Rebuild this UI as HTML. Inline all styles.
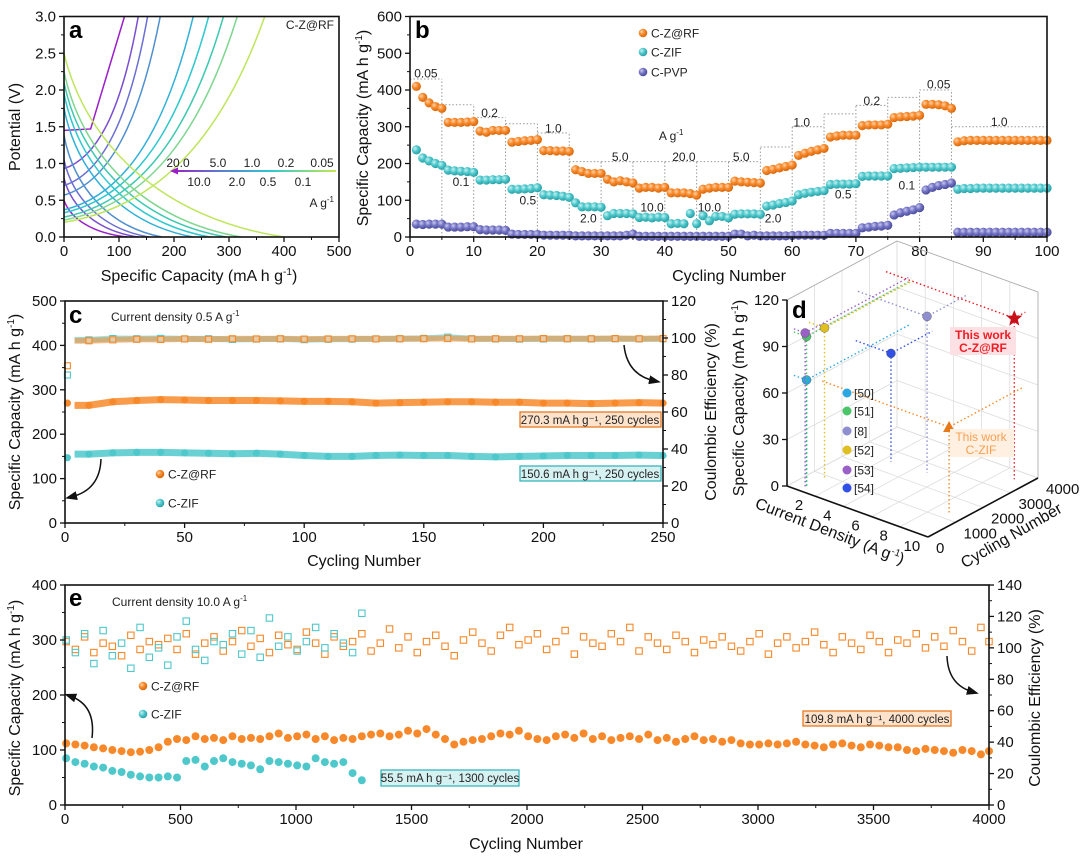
<!DOCTYPE html>
<html><head><meta charset="utf-8"><style>
html,body{margin:0;padding:0;background:#fff}
svg{display:block;font-family:"Liberation Sans",Arial,sans-serif}
</style></head><body>
<svg id="fig" xmlns="http://www.w3.org/2000/svg" width="1080" height="861" viewBox="0 0 1080 861">
<defs>
<radialGradient id="gOr" cx="35%" cy="35%" r="65%"><stop offset="0" stop-color="#ffd2a8"/><stop offset="0.5" stop-color="#f7892a"/><stop offset="1" stop-color="#d96a10"/></radialGradient>
<radialGradient id="gCy" cx="35%" cy="35%" r="65%"><stop offset="0" stop-color="#c8f2f3"/><stop offset="0.5" stop-color="#4fc8cc"/><stop offset="1" stop-color="#2aa2a8"/></radialGradient>
<radialGradient id="gPv" cx="35%" cy="35%" r="65%"><stop offset="0" stop-color="#c8c8f0"/><stop offset="0.5" stop-color="#7474c4"/><stop offset="1" stop-color="#4d4d9e"/></radialGradient>
<linearGradient id="gLeg" gradientUnits="userSpaceOnUse" x1="172" x2="336" y1="0" y2="0"><stop offset="0" stop-color="#9b1fc8"/><stop offset="0.3" stop-color="#5a7ed0"/><stop offset="0.6" stop-color="#2ec8cf"/><stop offset="1" stop-color="#c4e84e"/></linearGradient>
<marker id="arr" markerWidth="8" markerHeight="8" refX="4" refY="4" orient="auto"><path d="M0,1 L8,4 L0,7 Z" fill="#111"/></marker>
</defs>

<g font-size="16" fill="#111">
<text x="199" y="281" text-anchor="middle">Specific Capacity (mA h g<tspan dy="-6" font-size="10">-1</tspan><tspan dy="6">)</tspan></text>
<text transform="translate(20,127) rotate(-90)" text-anchor="middle">Potential (V)</text>
<text x="729" y="281" text-anchor="middle">Cycling Number</text>
<text transform="translate(368,128) rotate(-90)" text-anchor="middle">Specific Capacity (mA h g<tspan dy="-6" font-size="10">-1</tspan><tspan dy="6">)</tspan></text>
<text x="364" y="566" text-anchor="middle">Cycling Number</text>
<text transform="translate(20,412) rotate(-90)" text-anchor="middle">Specific Capacity (mA h g<tspan dy="-6" font-size="10">-1</tspan><tspan dy="6">)</tspan></text>
<text transform="translate(716,412) rotate(-90)" text-anchor="middle">Coulombic Efficiency (%)</text>
<text transform="translate(744,398) rotate(-90)" text-anchor="middle">Specific Capacity (mA h g<tspan dy="-6" font-size="10">-1</tspan><tspan dy="6">)</tspan></text>
<text transform="translate(828,536) rotate(21)" text-anchor="middle">Current Density (A g<tspan dy="-6" font-size="10">-1</tspan><tspan dy="6">)</tspan></text>
<text transform="translate(1014,540) rotate(-30)" text-anchor="middle">Cycling Number</text>
<text x="526" y="849" text-anchor="middle">Cycling Number</text>
<text transform="translate(20,698) rotate(-90)" text-anchor="middle">Specific Capacity (mA h g<tspan dy="-6" font-size="10">-1</tspan><tspan dy="6">)</tspan></text>
<text transform="translate(1040,698) rotate(-90)" text-anchor="middle">Coulombic Efficiency (%)</text>
</g>
<g font-size="24" font-weight="bold" fill="#000">
<text x="69" y="38">a</text>
<text x="415" y="38">b</text>
<text x="69" y="323">c</text>
<text x="792" y="318">d</text>
<text x="69" y="606">e</text>
</g>
<g font-size="12" fill="#222">
<text x="334" y="29" text-anchor="end">C-Z@RF</text>
<text x="334" y="207" text-anchor="end">A g<tspan dy="-5" font-size="8">-1</tspan></text>
<text x="111" y="321">Current density 0.5 A g<tspan dy="-5" font-size="8">-1</tspan></text>
<text x="112" y="606">Current density 10.0 A g<tspan dy="-5" font-size="8">-1</tspan></text>
</g>
<g id="layer"></g>
</svg>

<script>
// panel a
const aRates = ['20.0','10.0','5.0','2.0','1.0','0.5','0.2','0.1','0.05'];
const aDisStartV = [0.5,0.8,1.05,1.38,1.75,1.95,2.1,2.25,2.5];
const aDisEndCap = [115,135,155,178,235,265,295,322,400];
const aChgStartV = [1.45,0.93,0.7,0.57,0.37,0.33,0.27,0.23,0.2];
const aChgEndCap = [110,135,152,175,235,263,290,315,365];
// panel b
const bZRF = [410,380,365,355,350, 312,312,312,313,314, 288,285,290,290,290, 258,260,262,263,265, 235,235,234,234,233, 183,178,173,173,173, 157,150,153,150,147, 133,135,135,133,135, 120,120,120,118,114, 130,133,135,135,135, 152,150,149,148,147, 181,184,188,192,196, 222,228,233,237,241, 272,275,277,277,277, 303,305,305,305,307, 325,327,328,329,331, 361,361,360,357,350, 259,262,263,263,263, 263,263,263,263,263, 263,263,263,263,263];
const bZIF = [237,215,207,200,195, 182,180,179,178,176, 155,155,156,156,157, 130,130,131,132,134, 115,114,113,111,108, 93,82,82,82,81, 58,64,64,64,63, 53,54,52,54,53, 36,37,36,64,36, 58,44,56,56,52, 62,63,63,63,62, 84,87,91,94,98, 115,119,122,124,126, 143,144,144,144,145, 165,166,166,166,166, 186,187,188,189,190, 190,190,190,190,190, 130,132,132,133,133, 133,133,133,133,133, 133,133,133,133,133];
const bPVP = [35,34,35,35,35, 27,27,27,28,28, 20,19,19,19,18, 8,7,7,7,7, 5,5,5,5,5, 3,3,3,3,3, 3,3,3,5,8, 2,2,2,2,2, 2,2,2,2,2, 2,2,2,2,2, 8,8,3,5,3, 3,3,3,3,4, 5,5,5,5,5, 10,10,10,10,10, 25,27,29,30,32, 60,66,70,74,80, 128,135,140,143,147, 13,13,13,13,13, 13,13,13,13,13, 13,13,13,13,13];
const bStepStart = [0,5,10,15,20,25,30,35,40,45,50,55,60,65,70,75,80,85];
const bStepEnd   = [5,10,15,20,25,30,35,40,45,50,55,60,65,70,75,80,85,100];
const bStepTop   = [430,360,325,308,283,205,205,205,205,205,205,245,300,335,358,380,400,300];
const bRateText  = ['0.05','0.1','0.2','0.5','1.0','2.0','5.0','10.0','20.0','10.0','5.0','2.0','1.0','0.5','0.2','0.1','0.05','1.0'];
const bRateX     = [2.5,8,12.5,18.5,22.5,28,33,38,43,47,52,57,61.5,68,72.5,78,83,92.5];
const bRateY     = [445,150,338,100,295,50,218,80,218,80,218,50,312,115,370,140,415,313];
// panel c
const cCycles = [1,10,20,30,40,50,60,70,80,90,100,110,120,130,140,150,160,170,180,190,200,210,220,230,240,250];
const cCapZRF = [270,265,273,276,278,277,276,276,276,275,274,274,273,270,271,272,273,273,272,272,270,270,269,270,271,270];
const cCapZIF = [147,155,158,159,159,158,157,156,157,155,152,150,150,152,153,152,152,150,149,150,151,152,152,152,153,152];
const cCEZRF = [85,98.5,99,99.3,99.2,99.5,99.3,99.6,99.5,99.6,99.4,99.5,99.6,99.5,99.6,99.6,99.7,99.5,99.6,99.6,99.7,99.6,99.6,99.7,99.6,99.7];
const cCEZIF = [80,99,99.7,99.6,99.8,99.5,99.6,99.2,99.4,99.5,99.1,99.3,99.4,99.5,99.6,99.8,100.5,99.6,99.5,99.4,99.5,99.6,99.5,99.6,99.5,99.6];
// panel e
const eCapZRF = [112,110,108,105,103,100,98,96,97,100,105, 115,120,118,125,120,122,118,125,120,122, 120,125,130,122,125,128,120,125,118,122, 120,125,128,130,125,128,135,130,138,128, 120,110,115,118,120,125,130,128,135,125, 120,118,125,128,122,130,120,125,118,122, 125,120,128,118,122,115,120,125,118,120, 115,118,112,110,110,112,110,112,115,110, 108,105,110,112,108,105,110,108,105,105, 100,98,102,100,98,95,100,98,92,98];
const eCEZRF = [104,99,107,97,103,101,95,108,99,104,102, 106,99,109,96,103,107,98,104,111,101, 106,97,108,102,99,110,103,96,107,101, 104,109,98,103,112,100,107,97,104,108, 101,95,105,110,103,98,108,113,102,105, 109,99,104,111,96,107,103,101,109,104, 113,98,107,103,99,108,104,97,105,102, 107,101,98,104,109,96,103,107,100,104, 110,102,97,107,103,99,108,104,97,105, 103,109,100,107,101,111,104,98,113,104];
const eCapZIF = [85,78,75,70,68,62,60,55,52,50,50,52,50,80,82,70,80,85,78,75,72,65,80,78,75,72,70,85,78,75,78,58,45];
const eCEZIF = [105,97,109,90,111,95,103,87,113,94,100,89,107,117,99,92,104,102,109,96,111,94,119,101,107,98,104,113,100,109,103,97,122];
const eStep = 40;
// panel d
const dRefs = ['[50]','[51]','[8]','[52]','[53]','[54]'];
const dCD   = [1.9,1.9,5.9,2.1,1.8,3.5];
const dCyc  = [250,250,2580,800,250,2500];
const dCap  = [69,97,101,98,99,70];
const dCol  = ['#2aa6e0','#4cc46a','#8f8fd0','#e0c020','#9b5fc8','#3050e8'];
const dWorkCD = [10.1,10];
const dWorkCyc = [3600,1280];
const dWorkCap = [104,55.5];

const NS='http://www.w3.org/2000/svg';
const layer=document.getElementById('layer');
function mk(tag,attrs,parent){const e=document.createElementNS(NS,tag);for(const k in attrs)e.setAttribute(k,attrs[k]);(parent||layer).appendChild(e);return e;}
function lin(d0,d1,r0,r1){return v=>r0+(v-d0)*(r1-r0)/(d1-d0);}
const aColors=['#9b1fc8','#7a4ed0','#6b6fd1','#4f8fcf','#2fb0d8','#2ec8cf','#3cc9b0','#7ed68f','#bde65a'];

function frame(x0,x1,y0,y1,name){
  const r=mk('rect',{x:x0,y:y0,width:x1-x0,height:y1-y0,fill:'none',stroke:'#111','stroke-width':1.6});
  
  
}
function xTicks(sx,vals,fmt,y1,name){
  const g=mk('g',{});
  
  
  for(let i=0;i<vals.length;i++){
    const x=sx(vals[i]);
    mk('line',{x1:x,x2:x,y1:y1,y2:y1+5,stroke:'#111','stroke-width':1.3},g);
    if(i<vals.length-1){const xm=sx((vals[i]+vals[i+1])/2);mk('line',{x1:xm,x2:xm,y1:y1,y2:y1+3,stroke:'#111','stroke-width':1},g);}
    const t=mk('text',{x:x,y:y1+19,'text-anchor':'middle','font-size':15,fill:'#111'},g);
    t.textContent=fmt(vals[i]);
  }
}
function yTicks(sy,vals,fmt,x,side,name){
  const g=mk('g',{});
  
  
  const d=side==='left'?-1:1;
  for(let i=0;i<vals.length;i++){
    const y=sy(vals[i]);
    mk('line',{x1:x,x2:x+5*d,y1:y,y2:y,stroke:'#111','stroke-width':1.3},g);
    if(i<vals.length-1){const ym=sy((vals[i]+vals[i+1])/2);mk('line',{x1:x,x2:x+3*d,y1:ym,y2:ym,stroke:'#111','stroke-width':1},g);}
    const t=mk('text',{x:x+8*d,y:y+5,'text-anchor':side==='left'?'end':'start','font-size':15,fill:'#111'},g);
    t.textContent=fmt(vals[i]);
  }
}
const range=(a,b,s)=>{const r=[];for(let v=a;v<=b+1e-9;v+=s)r.push(+v.toFixed(4));return r;};

// PANEL A
const ax=lin(0,500,64,339), ay=lin(0,3,237,16.5);
{
  const g=mk('g',{});
  
  
  for(let i=0;i<aRates.length;i++){
    const c=aDisEndCap[i],v=aDisStartV[i];
    const p=mk('path',{d:`M${ax(0)},${ay(v)} C${ax(0.1*c)},${ay(0.5*v)} ${ax(0.45*c)},${ay(0.1*v)} ${ax(c)},${ay(0)}`,fill:'none',stroke:aColors[i],'stroke-width':1.5},g);
    
    
    const c2=aChgEndCap[i],s=aChgStartV[i];
    let d;
    if(i===0){d=`M${ax(0)},${ay(s)} L${ax(0.44*c2)},${ay(s+0.02)} L${ax(c2)},${ay(3)}`;}
    else d=`M${ax(0)},${ay(s)} C${ax(0.5*c2)},${ay(s+0.08*(3-s))} ${ax(0.8*c2)},${ay(s+0.45*(3-s))} ${ax(c2)},${ay(3)}`;
    const q=mk('path',{d:d,fill:'none',stroke:aColors[i],'stroke-width':1.5},g);
    
    
  }
  frame(64,339,16.5,237,'a-plot-frame');
  xTicks(ax,range(0,500,100),v=>String(v),237,'a-x-axis');
  yTicks(ay,range(0,3,0.5),v=>v.toFixed(1),64,'left','a-y-axis');
  const lg=mk('g',{});
  
  
  mk('line',{x1:336,y1:171,x2:176,y2:171,stroke:'url(#gLeg)','stroke-width':2},lg);
  mk('path',{d:'M170,171 L178,167.5 L178,174.5 Z',fill:'#9b1fc8'},lg);
  const top=[['20.0',178],['5.0',218],['1.0',252],['0.2',286],['0.05',322]];
  const bot=[['10.0',199],['2.0',237],['0.5',268],['0.1',303]];
  top.forEach(t=>{const e=mk('text',{x:t[1],y:167,'text-anchor':'middle','font-size':12,fill:'#222'},lg);e.textContent=t[0];});
  bot.forEach(t=>{const e=mk('text',{x:t[1],y:186,'text-anchor':'middle','font-size':12,fill:'#222'},lg);e.textContent=t[0];});
}

// PANEL B
const bx=lin(0,100,410,1047), by=lin(0,600,237,16.5);
{
  const g=mk('g',{});
  
  
  let d='';
  for(let i=0;i<bStepStart.length;i++){
    d+=`M${bx(bStepStart[i])},${by(bStepTop[i])} H${bx(bStepEnd[i])} `;
    if(i>0){const h=Math.max(bStepTop[i],bStepTop[i-1]);d+=`M${bx(bStepStart[i])},${by(0)} V${by(h)} `;}
  }
  mk('path',{d:d,fill:'none',stroke:'#999','stroke-width':1,'stroke-dasharray':'1.5,2'},g);
  for(let i=0;i<bRateText.length;i++){
    const t=mk('text',{x:bx(bRateX[i]),y:by(bRateY[i])+4,'text-anchor':'middle','font-size':12,fill:'#222'},g);
    t.textContent=bRateText[i];
  }
  const u=mk('text',{x:bx(41),y:by(275)+4,'text-anchor':'middle','font-size':12,fill:'#222'},g);
  u.textContent='A g';
  const us=mk('tspan',{dy:-5,'font-size':8},u);
  us.textContent='-1';
  const series=[[bPVP,'url(#gPv)','c-pvp'],[bZIF,'url(#gCy)','c-zif'],[bZRF,'url(#gOr)','c-z-rf']];
  series.forEach(s=>{
    const sg=mk('g',{});
    
    
    s[0].forEach((v,i)=>{
      const c=mk('circle',{cx:bx(i+1),cy:by(v),r:4.6,fill:s[1]},sg);
      
      
    });
  });
  frame(410,1047,16.5,237,'b-plot-frame');
  xTicks(bx,range(0,100,10),v=>String(v),237,'b-x-axis');
  yTicks(by,range(0,600,100),v=>String(v),410,'left','b-y-axis');
  const leg=[['url(#gOr)','C-Z@RF',33],['url(#gCy)','C-ZIF',52],['url(#gPv)','C-PVP',72]];
  leg.forEach(l=>{
    const lg=mk('g',{});
    
    
    mk('circle',{cx:643,cy:l[2],r:4.3,fill:l[0]},lg);
    const t=mk('text',{x:651,y:l[2]+4.5,'font-size':12,fill:'#222'},lg);
    t.textContent=l[1];
  });
}

// PANEL C
const cx=lin(0,250,65,663), cy=lin(0,500,523,301), cyR=lin(0,120,523,301);
{
  const series=[[cCEZIF,'#4fc8cc',true],[cCEZRF,'#f7892a',true],[cCapZIF,'#4fc8cc',false],[cCapZRF,'#f7892a',false]];
  series.forEach((s,k)=>{
    const g=mk('g',{});
    
    
    const yy=s[2]?cyR:cy;
    let pts=[];
    for(let i=1;i<cCycles.length;i++)pts.push(cx(cCycles[i])+','+yy(s[0][i]));
    mk('polyline',{points:cx(4)+','+yy(s[0][1])+' '+pts.join(' '),fill:'none',stroke:s[1],'stroke-width':s[2]?6:7,'stroke-opacity':s[2]?0.55:0.85},g);
    for(let i=0;i<cCycles.length;i++){
      const x=cx(cCycles[i]),y=yy(s[0][i]);
      let m;
      if(s[2]) m=mk('rect',{x:x-3,y:y-3,width:6,height:6,fill:'#fff','fill-opacity':0.3,stroke:s[1],'stroke-width':1.1},g);
      else m=mk('circle',{cx:x,cy:y,r:3.6,fill:s[1]},g);
      
      
    }
  });
  frame(65,663,301,523,'c-plot-frame');
  xTicks(cx,range(0,250,50),v=>String(v),523,'c-x-axis');
  yTicks(cy,range(0,500,100),v=>String(v),65,'left','c-y-axis');
  yTicks(cyR,range(0,120,20),v=>String(v),663,'right','c-y2-axis');
  const b1=mk('g',{});
  
  
  mk('rect',{x:520,y:412,width:141,height:15,fill:'#fde3cc',stroke:'#e67a22','stroke-width':1.3},b1);
  const t1=mk('text',{x:590,y:424,'text-anchor':'middle','font-size':11.5,fill:'#222'},b1);
  t1.textContent='270.3 mA h g⁻¹, 250 cycles';
  const b2=mk('g',{});
  
  
  mk('rect',{x:520,y:466,width:141,height:15,fill:'#d6f1f2',stroke:'#3bb5ba','stroke-width':1.3},b2);
  const t2=mk('text',{x:590,y:478,'text-anchor':'middle','font-size':11.5,fill:'#222'},b2);
  t2.textContent='150.6 mA h g⁻¹, 250 cycles';
  [['url(#gOr)','C-Z@RF',474],['url(#gCy)','C-ZIF',503]].forEach(l=>{
    const lg=mk('g',{});
    
    
    mk('circle',{cx:160,cy:l[2],r:4.3,fill:l[0]},lg);
    const t=mk('text',{x:168,y:l[2]+4.5,'font-size':12,fill:'#222'},lg);
    t.textContent=l[1];
  });
  const a1=mk('path',{d:'M101,459 Q100,490 71,497',fill:'none',stroke:'#111','stroke-width':1.5,'marker-end':'url(#arr)'});
  
  
  const a2=mk('path',{d:'M624,345 Q627,375 655,381',fill:'none',stroke:'#111','stroke-width':1.5,'marker-end':'url(#arr)'});
  
  
}

// PANEL D
{
  const O=[787,486],U=[141,51],V=[110,-59],H=1.55;
  const P=(cd,cyc,cap)=>{const a=(cd-1)/10,b=cyc/4000;return [O[0]+a*U[0]+b*V[0],O[1]+a*U[1]+b*V[1]-cap*H];};
  const g=mk('g',{});
  
  
  const L=(p,q,st,w)=>mk('line',{x1:p[0],y1:p[1],x2:q[0],y2:q[1],stroke:st,'stroke-width':w},g);
  for(let c=0;c<=120;c+=30){L(P(1,0,c),P(1,4000,c),'#ddd',0.8);L(P(1,4000,c),P(11,4000,c),'#ddd',0.8);}
  for(let k=0;k<=4000;k+=1000){L(P(1,k,0),P(1,k,120),'#ddd',0.8);L(P(1,k,0),P(11,k,0),'#ddd',0.8);}
  for(let k=1;k<=11;k+=2){L(P(k,4000,0),P(k,4000,120),'#ddd',0.8);L(P(k,0,0),P(k,4000,0),'#ddd',0.8);}
  L(P(1,0,120),P(1,4000,120),'#aaa',0.8);L(P(1,4000,120),P(11,4000,120),'#aaa',0.8);L(P(11,4000,0),P(11,4000,120),'#aaa',0.8);
  L(P(1,0,0),P(1,0,120),'#111',1.6);L(P(1,0,0),P(11,0,0),'#111',1.6);L(P(11,0,0),P(11,4000,0),'#111',1.6);
  for(let c=0;c<=120;c+=30){const p=P(1,0,c);L(p,[p[0]-5,p[1]],'#111',1.3);const t=mk('text',{x:p[0]-8,y:p[1]+5,'text-anchor':'end','font-size':15,fill:'#111'},g);t.textContent=String(c);}
  for(let k=2;k<=10;k+=2){const p=P(k,0,0);const t=mk('text',{x:p[0]-2,y:p[1]+19,'text-anchor':'middle','font-size':15,fill:'#111'},g);t.textContent=String(k);}
  for(let k=0;k<=4000;k+=1000){const p=P(11,k,0);const t=mk('text',{x:p[0]+8,y:p[1]+16,'text-anchor':'start','font-size':15,fill:'#111'},g);t.textContent=String(k);}
  const pts=dRefs.map((r,i)=>[dCD[i],dCyc[i],dCap[i],dCol[i],r]);
  pts.push([dWorkCD[0],dWorkCyc[0],dWorkCap[0],'#ee1c24','work-zrf']);
  pts.push([dWorkCD[1],dWorkCyc[1],dWorkCap[1],'#f7892a','work-zif']);
  pts.forEach(p=>{
    const s=P(p[0],p[1],p[2]);
    const lg=mk('g',{});
    
    
    const dl={stroke:p[3],'stroke-width':1.4,'stroke-dasharray':'1.5,2.5',fill:'none'};
    const f=P(p[0],p[1],0),w1=P(1,p[1],p[2]),w2=P(p[0],4000,p[2]);
    mk('path',Object.assign({d:`M${s[0]},${s[1]} L${f[0]},${f[1]} M${w1[0]},${w1[1]} L${s[0]},${s[1]} L${w2[0]},${w2[1]}`},dl),lg);
    if(p[4]==='work-zrf') mk('path',{d:`M${s[0]},${s[1]-8} L${s[0]+2.3},${s[1]-2.5} L${s[0]+8},${s[1]-2.5} L${s[0]+3.5},${s[1]+1.5} L${s[0]+5},${s[1]+7.5} L${s[0]},${s[1]+4} L${s[0]-5},${s[1]+7.5} L${s[0]-3.5},${s[1]+1.5} L${s[0]-8},${s[1]-2.5} L${s[0]-2.3},${s[1]-2.5} Z`,fill:'#c8101a'},lg);
    else if(p[4]==='work-zif') mk('path',{d:`M${s[0]},${s[1]-6} L${s[0]+6},${s[1]+5} L${s[0]-6},${s[1]+5} Z`,fill:'#e87818'},lg);
    else mk('circle',{cx:s[0],cy:s[1],r:4.5,fill:p[3],stroke:'#555','stroke-width':0.4},lg);
  });
  const legY=[393,411,431,450,470,488];
  dRefs.forEach((r,i)=>{
    const lg=mk('g',{});
    
    
    mk('circle',{cx:847,cy:legY[i],r:4.5,fill:dCol[i]},lg);
    const t=mk('text',{x:854,y:legY[i]+4.5,'font-size':12,fill:'#222'},lg);
    t.textContent=r;
  });
  const w1=mk('g',{});
  
  
  mk('rect',{x:950,y:327,width:66,height:28,fill:'#fde0e4'},w1);
  const wa=mk('text',{x:983,y:339,'text-anchor':'middle','font-size':12,'font-weight':'bold',fill:'#ee1c24'},w1);wa.textContent='This work';
  const wb=mk('text',{x:983,y:352,'text-anchor':'middle','font-size':12,'font-weight':'bold',fill:'#ee1c24'},w1);wb.textContent='C-Z@RF';
  const w2=mk('g',{});
  
  
  mk('rect',{x:950,y:429,width:64,height:28,fill:'#fff0e2'},w2);
  const wc=mk('text',{x:981,y:441,'text-anchor':'middle','font-size':12,fill:'#f7a050'},w2);wc.textContent='This work';
  const wd=mk('text',{x:981,y:454,'text-anchor':'middle','font-size':12,fill:'#f7a050'},w2);wd.textContent='C-ZIF';
}

// PANEL E
const ex=lin(0,4000,65,989), ey=lin(0,400,805,585), eyR=lin(0,140,805,585);
{
  const sets=[[eCEZRF,'#f7892a',true,'e-ce-zrf'],[eCEZIF,'#4fc8cc',true,'e-ce-zif'],[eCapZRF,'#f7892a',false,'e-capacity-zrf'],[eCapZIF,'#4fc8cc',false,'e-capacity-zif']];
  sets.forEach(s=>{
    const g=mk('g',{});
    
    
    const n=s[0].length;
    for(let i=0;i<n;i++){
      const x=ex(Math.min(i*eStep+5,4000));
      const v=s[0][i];
      let m;
      if(s[2]){const y=eyR(v);m=mk('rect',{x:x-3.2,y:y-3.2,width:6.4,height:6.4,fill:'none',stroke:s[1],'stroke-width':1.1},g);}
      else {const y=ey(v);m=mk('circle',{cx:x,cy:y,r:4,fill:s[1]},g);}
      
      
    }
  });
  frame(65,989,585,805,'e-plot-frame');
  xTicks(ex,range(0,4000,500),v=>String(v),805,'e-x-axis');
  yTicks(ey,range(0,400,100),v=>String(v),65,'left','e-y-axis');
  yTicks(eyR,range(0,140,20),v=>String(v),989,'right','e-y2-axis');
  const b1=mk('g',{});
  
  
  mk('rect',{x:803,y:711,width:148,height:15,fill:'#fde3cc',stroke:'#e67a22','stroke-width':1.3},b1);
  const t1=mk('text',{x:877,y:723,'text-anchor':'middle','font-size':11.5,fill:'#222'},b1);
  t1.textContent='109.8 mA h g⁻¹, 4000 cycles';
  const b2=mk('g',{});
  
  
  mk('rect',{x:381,y:770,width:138,height:16,fill:'#d6f1f2',stroke:'#3bb5ba','stroke-width':1.3},b2);
  const t2=mk('text',{x:450,y:782,'text-anchor':'middle','font-size':11.5,fill:'#222'},b2);
  t2.textContent='55.5 mA h g⁻¹, 1300 cycles';
  [['url(#gOr)','C-Z@RF',686],['url(#gCy)','C-ZIF',714]].forEach(l=>{
    const lg=mk('g',{});
    
    
    mk('circle',{cx:143,cy:l[2],r:4.3,fill:l[0]},lg);
    const t=mk('text',{x:151,y:l[2]+4.5,'font-size':12,fill:'#222'},lg);
    t.textContent=l[1];
  });
  const a1=mk('path',{d:'M92,738 Q96,705 70,696',fill:'none',stroke:'#111','stroke-width':1.5,'marker-end':'url(#arr)'});
  
  
  const a2=mk('path',{d:'M947,656 Q948,685 973,692',fill:'none',stroke:'#111','stroke-width':1.5,'marker-end':'url(#arr)'});
  
  
}
</script>
</body></html>
